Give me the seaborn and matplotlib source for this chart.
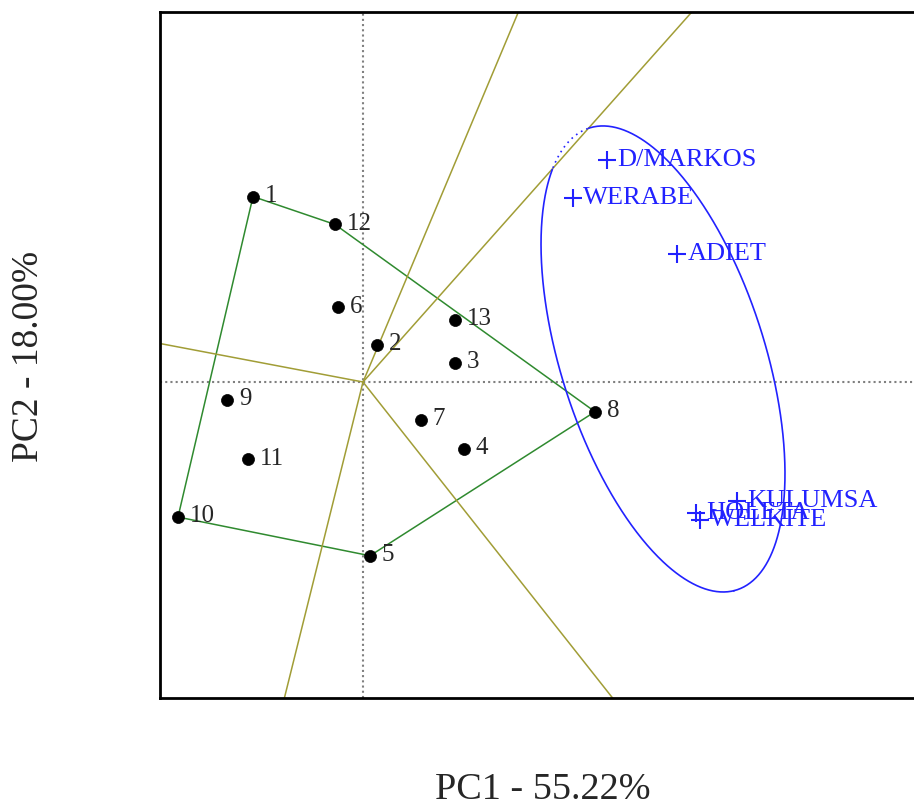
import numpy as np
import pandas as pd
import matplotlib
matplotlib.use("Agg")
import matplotlib.pyplot as plt
import seaborn as sns

# Genotype scores on the first two principal components
genotypes = ["1", "2", "3", "4", "5", "6", "7", "8", "9", "10", "11", "12", "13"]
gen_pc1 = [-1.10, 0.14, 0.92, 1.01, 0.07, -0.25, 0.58, 2.32, -1.36, -1.85, -1.15, -0.28, 0.92]
gen_pc2 = [2.06, 0.41, 0.21, -0.74, -1.93, 0.83, -0.42, -0.33, -0.20, -1.50, -0.86, 1.75, 0.69]

# Environment scores
environments = ["D/MARKOS", "WERABE", "ADIET", "KULUMSA", "HOLETA", "WELKITE"]
env_pc1 = [2.44, 2.10, 3.14, 3.74, 3.33, 3.37]
env_pc2 = [2.47, 2.04, 1.42, -1.32, -1.45, -1.53]

# Mega-environment ellipse (centre, semi-axes, rotation in degrees)
ell_center = (3.00, 0.256)
ell_axes = (2.670, 1.029)
ell_angle = -74.58

pc1_label = "PC1 - 55.22%"
pc2_label = "PC2 - 18.00%"

OLIVE = "#a19d36"
GREEN = "#2f8a2f"
BLUE = "#2222ff"

sns.set_style("white")
plt.rcParams["font.family"] = ["Liberation Serif", "DejaVu Serif"]

gen = pd.DataFrame({"name": genotypes, "PC1": gen_pc1, "PC2": gen_pc2})
env = pd.DataFrame({"name": environments, "PC1": env_pc1, "PC2": env_pc2})

fig = plt.figure(figsize=(9.14, 8.08), dpi=100)
ax = fig.add_axes([160 / 914, 110 / 808, 764 / 914, 686 / 808])
ax.set_xlim(-2.03, 5.61)
ax.set_ylim(-3.51, 4.11)

# Dotted reference axes through the origin
ax.axhline(0, color="#808080", lw=1.5, ls=(0, (1, 1.5)), zorder=1)
ax.axvline(0, color="#808080", lw=1.5, ls=(0, (1, 1.5)), zorder=1)

# Convex hull of genotype points (which-won-where polygon)
pts = gen[["PC1", "PC2"]].to_numpy()


def convex_hull(p):
    idx = sorted(range(len(p)), key=lambda i: (p[i][0], p[i][1]))

    def cross(o, a, b):
        return (p[a][0] - p[o][0]) * (p[b][1] - p[o][1]) - (p[a][1] - p[o][1]) * (p[b][0] - p[o][0])

    lower, upper = [], []
    for i in idx:
        while len(lower) >= 2 and cross(lower[-2], lower[-1], i) <= 0:
            lower.pop()
        lower.append(i)
    for i in reversed(idx):
        while len(upper) >= 2 and cross(upper[-2], upper[-1], i) <= 0:
            upper.pop()
        upper.append(i)
    return lower[:-1] + upper[:-1]


hull = convex_hull(pts)
hull_df = gen.iloc[hull + [hull[0]]].reset_index(drop=True)
hull_df["step"] = np.arange(len(hull_df))
sns.lineplot(data=hull_df, x="PC1", y="PC2", sort=False, estimator=None, units="step",
             color=GREEN, lw=1.1, ax=ax, zorder=2, legend=False)
ax.plot(hull_df["PC1"], hull_df["PC2"], color=GREEN, lw=1.1, zorder=2)

# Rays from the origin perpendicular to each hull side
ray_dirs = []
for k in range(len(hull)):
    P = pts[hull[k]]
    Q = pts[hull[(k + 1) % len(hull)]]
    d = Q - P
    t = -np.dot(P, d) / np.dot(d, d)
    foot = P + t * d
    ray_dirs.append(foot / np.linalg.norm(foot))
    ax.plot([0, foot[0] * 50], [0, foot[1] * 50], color=OLIVE, lw=1.1, zorder=2)

# Ellipse: solid inside the sector that holds its centre, dotted outside
tt = np.linspace(0, 2 * np.pi, 721)
th = np.deg2rad(ell_angle)
ex = ell_axes[0] * np.cos(tt)
ey = ell_axes[1] * np.sin(tt)
xs = ell_center[0] + ex * np.cos(th) - ey * np.sin(th)
ys = ell_center[1] + ex * np.sin(th) + ey * np.cos(th)

ang = np.arctan2([r[1] for r in ray_dirs], [r[0] for r in ray_dirs])
c_ang = np.arctan2(ell_center[1], ell_center[0])
order = np.sort(ang)
hi = order[np.searchsorted(order, c_ang) % len(order)]
lo = order[np.searchsorted(order, c_ang) - 1]
pang = np.arctan2(ys, xs)
inside = (pang >= lo) & (pang <= hi)
ax.plot(np.where(inside, xs, np.nan), np.where(inside, ys, np.nan), color=BLUE, lw=1.2, zorder=3)
ax.plot(np.where(~inside, xs, np.nan), np.where(~inside, ys, np.nan), color=BLUE, lw=1.2,
        ls=(0, (1, 2.5)), zorder=3)

# Genotypes
sns.scatterplot(data=gen, x="PC1", y="PC2", color="black", s=75, edgecolor="black",
                linewidth=0.5, ax=ax, zorder=4, legend=False)
for _, r in gen.iterrows():
    ax.annotate(r["name"], (r["PC1"], r["PC2"]), xytext=(8.5, 0.5), textcoords="offset points",
                ha="left", va="center", fontsize=18, color="#262626", zorder=5)

# Environments
sns.scatterplot(data=env, x="PC1", y="PC2", marker="+", color=BLUE, s=150, linewidth=1.5,
                ax=ax, zorder=4, legend=False)
for _, r in env.iterrows():
    ax.annotate(r["name"], (r["PC1"], r["PC2"]), xytext=(7.5, 0), textcoords="offset points",
                ha="left", va="center", fontsize=19, color=BLUE, zorder=5)

ax.set_xticks([])
ax.set_yticks([])
ax.set_xlabel("")
ax.set_ylabel("")
for s in ax.spines.values():
    s.set_color("black")
    s.set_linewidth(2.0)

fig.text(543 / 914, 1 - 799 / 808, pc1_label, ha="center", va="baseline", fontsize=27.5)
fig.text(29 / 914, 1 - 356 / 808, pc2_label, ha="center", va="center", rotation=90, fontsize=27)

fig.savefig("out.png", dpi=100)
